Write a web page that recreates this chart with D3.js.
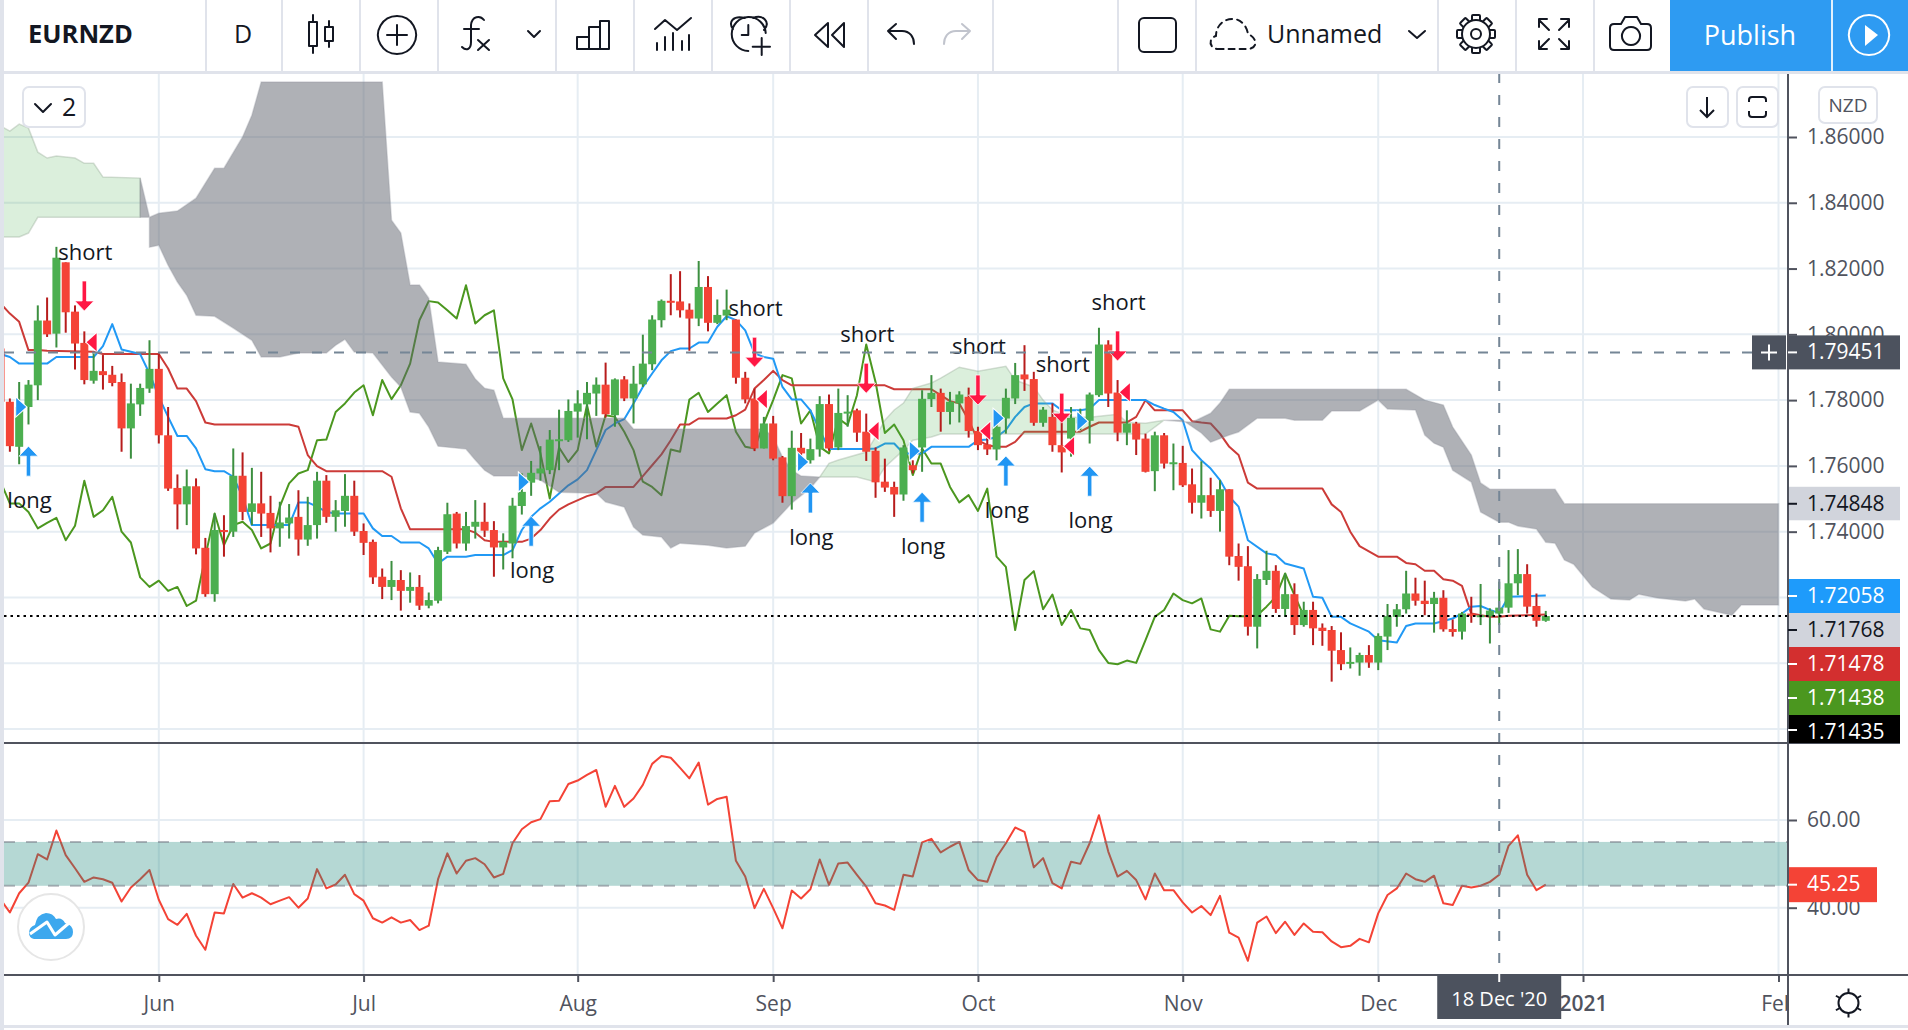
<!DOCTYPE html>
<html>
<head>
<meta charset="utf-8">
<title>EURNZD</title>
<script src="https://d3js.org/d3.v7.min.js"></script>
<style>
  html, body { margin: 0; padding: 0; background: #fff; overflow: hidden; }
  svg { display: block; font-family: "Open Sans", sans-serif; }
</style>
</head>
<body>
<svg id="chart" width="1908" height="1030" viewBox="0 0 1908 1030"></svg>
<script>
// Bars are numbered by trading day, with 1 June 2020 as bar 0.
const firstBar = -17;

const barOpen = [
  1.7957,1.7795,1.7658,1.7779,1.7845,1.8042,1.8002,1.8219,1.8069,1.7974,
  1.7859,1.7888,1.7877,1.7855,1.7714,1.7787,1.7835,1.7895,1.7693,1.7533,
  1.7483,1.7538,1.7351,1.7210,1.7405,1.7400,1.7570,1.7460,1.7486,1.7457,
  1.7410,1.7425,1.7445,1.7376,1.7420,1.7555,1.7445,1.7463,1.7509,1.7402,
  1.7369,1.7263,1.7232,1.7253,1.7220,1.7232,1.7175,1.7190,1.7339,1.7455,
  1.7364,1.7415,1.7430,1.7405,1.7352,1.7364,1.7478,1.7549,1.7577,1.7587,
  1.7678,1.7678,1.7765,1.7787,1.7820,1.7847,1.7754,1.7863,1.7805,1.7848,
  1.7909,1.8043,1.8102,1.8100,1.8075,1.8048,1.8144,1.8035,1.8057,1.8045,
  1.7868,1.7805,1.7653,1.7729,1.7626,1.7508,1.7655,1.7617,1.7650,1.7788,
  1.7656,1.7761,1.7769,1.7704,1.7646,1.7552,1.7536,1.7513,1.7602,1.7656,
  1.7803,1.7822,1.7764,1.7790,1.7810,1.7706,1.7665,1.7650,1.7744,1.7805,
  1.7878,1.7864,1.7731,1.7749,1.7663,1.7683,1.7729,1.7737,1.7815,1.7969,
  1.7823,1.7701,1.7729,1.7683,1.7584,1.7693,1.7607,1.7609,1.7544,1.7488,
  1.7511,1.7463,1.7529,1.7326,1.7295,1.7111,1.7253,1.7281,1.7165,1.7210,
  1.7116,1.7162,1.7108,1.7101,1.7040,1.6999,1.7002,1.7025,1.7002,1.7081,
  1.7141,1.7164,1.7212,1.7190,1.7180,1.7199,1.7104,1.7096,1.7151,1.7141,
  1.7143,1.7151,1.7169,1.7243,1.7271,1.7174,1.7129
];
const barHigh = [
  1.7957,1.7805,1.7855,1.7861,1.8088,1.8112,1.8266,1.8219,1.8088,1.8009,
  1.7942,1.7937,1.7904,1.7881,1.7850,1.7850,1.7982,1.7942,1.7779,1.7574,
  1.7589,1.7562,1.7381,1.7455,1.7450,1.7653,1.7641,1.7594,1.7582,1.7509,
  1.7491,1.7484,1.7526,1.7506,1.7582,1.7572,1.7496,1.7575,1.7555,1.7425,
  1.7376,1.7288,1.7311,1.7283,1.7276,1.7268,1.7215,1.7354,1.7488,1.7460,
  1.7460,1.7496,1.7488,1.7432,1.7395,1.7503,1.7577,1.7615,1.7660,1.7709,
  1.7771,1.7802,1.7830,1.7855,1.7869,1.7914,1.7866,1.7873,1.7904,1.7999,
  1.8058,1.8106,1.8183,1.8192,1.8094,1.8223,1.8177,1.8106,1.8136,1.8045,
  1.7886,1.7835,1.7749,1.7752,1.7630,1.7707,1.7700,1.7683,1.7812,1.7817,
  1.7835,1.7815,1.7774,1.7759,1.7656,1.7622,1.7552,1.7663,1.7617,1.7830,
  1.7876,1.7835,1.7825,1.7827,1.7838,1.7719,1.7698,1.7729,1.7835,1.7913,
  1.7967,1.7886,1.7779,1.7790,1.7749,1.7779,1.7774,1.7823,1.8020,1.7982,
  1.7861,1.7769,1.7734,1.7698,1.7704,1.7700,1.7668,1.7661,1.7592,1.7614,
  1.7564,1.7557,1.7529,1.7364,1.7356,1.7271,1.7342,1.7298,1.7273,1.7243,
  1.7187,1.7187,1.7121,1.7113,1.7094,1.7048,1.7032,1.7055,1.7091,1.7180,
  1.7180,1.7281,1.7260,1.7251,1.7217,1.7222,1.7133,1.7156,1.7202,1.7241,
  1.7167,1.7248,1.7344,1.7347,1.7301,1.7212,1.7159
];
const barLow = [
  1.7795,1.7643,1.7605,1.7726,1.7800,1.7992,1.7960,1.8005,1.7893,1.7848,
  1.7850,1.7832,1.7842,1.7643,1.7622,1.7752,1.7822,1.7668,1.7524,1.7407,
  1.7420,1.7331,1.7202,1.7187,1.7324,1.7384,1.7435,1.7420,1.7384,1.7337,
  1.7354,1.7379,1.7327,1.7357,1.7379,1.7427,1.7400,1.7415,1.7387,1.7329,
  1.7241,1.7195,1.7192,1.7160,1.7184,1.7162,1.7167,1.7182,1.7332,1.7349,
  1.7342,1.7379,1.7384,1.7263,1.7285,1.7319,1.7452,1.7509,1.7555,1.7575,
  1.7587,1.7673,1.7686,1.7681,1.7752,1.7747,1.7719,1.7797,1.7729,1.7840,
  1.7891,1.8021,1.8058,1.8051,1.7950,1.8025,1.8009,1.8031,1.8043,1.7850,
  1.7790,1.7645,1.7653,1.7617,1.7488,1.7467,1.7628,1.7607,1.7628,1.7646,
  1.7648,1.7719,1.7673,1.7615,1.7503,1.7521,1.7445,1.7494,1.7577,1.7582,
  1.7779,1.7704,1.7726,1.7732,1.7686,1.7648,1.7633,1.7617,1.7698,1.7788,
  1.7828,1.7722,1.7719,1.7643,1.7580,1.7628,1.7709,1.7668,1.7810,1.7779,
  1.7675,1.7663,1.7633,1.7580,1.7523,1.7592,1.7526,1.7536,1.7455,1.7440,
  1.7445,1.7400,1.7298,1.7251,1.7084,1.7045,1.7238,1.7153,1.7141,1.7086,
  1.7111,1.7055,1.7053,1.6944,1.6979,1.6984,1.6962,1.6986,1.6979,1.7040,
  1.7111,1.7151,1.7175,1.7146,1.7093,1.7096,1.7081,1.7072,1.7123,1.7116,
  1.7060,1.7116,1.7153,1.7207,1.7151,1.7111,1.7126
];
const barClose = [
  1.7795,1.7660,1.7779,1.7847,1.8042,1.8000,1.8233,1.8067,1.7972,1.7861,
  1.7889,1.7876,1.7852,1.7714,1.7790,1.7837,1.7895,1.7693,1.7531,1.7483,
  1.7538,1.7349,1.7210,1.7405,1.7400,1.7570,1.7460,1.7486,1.7455,1.7410,
  1.7428,1.7443,1.7376,1.7420,1.7555,1.7445,1.7465,1.7509,1.7400,1.7366,
  1.7261,1.7232,1.7253,1.7220,1.7232,1.7175,1.7192,1.7344,1.7453,1.7364,
  1.7417,1.7430,1.7403,1.7352,1.7369,1.7479,1.7521,1.7579,1.7592,1.7680,
  1.7681,1.7767,1.7790,1.7822,1.7847,1.7757,1.7863,1.7805,1.7850,1.7911,
  1.8045,1.8102,1.8098,1.8073,1.8048,1.8144,1.8035,1.8059,1.8075,1.7868,
  1.7802,1.7653,1.7729,1.7622,1.7508,1.7655,1.7638,1.7651,1.7788,1.7653,
  1.7761,1.7765,1.7701,1.7643,1.7550,1.7534,1.7513,1.7656,1.7587,1.7804,
  1.7822,1.7764,1.7795,1.7817,1.7706,1.7663,1.7650,1.7719,1.7807,1.7876,
  1.7863,1.7731,1.7771,1.7663,1.7641,1.7746,1.7749,1.7817,1.7969,1.7820,
  1.7701,1.7729,1.7680,1.7582,1.7693,1.7607,1.7611,1.7541,1.7488,1.7511,
  1.7463,1.7529,1.7324,1.7293,1.7111,1.7256,1.7281,1.7165,1.7210,1.7116,
  1.7162,1.7106,1.7098,1.7038,1.6997,1.7004,1.7025,1.7002,1.7083,1.7143,
  1.7164,1.7212,1.7190,1.7180,1.7199,1.7103,1.7095,1.7151,1.7143,1.7146,
  1.7160,1.7169,1.7243,1.7271,1.7172,1.7129,1.71435
];

// Conversion and base lines, as [bar, price] at each change of direction.
const kijun = [[-17,1.8094],[-16,1.8063],[-15,1.8038],[-14,1.7952],[-13,1.7952],[-12,1.7950],[-7,1.7947],[-6,1.7940],[0,1.7940],
  [1,1.7896],[2,1.7835],[3,1.7835],[4,1.7797],[5,1.7732],[6,1.7726],[14,1.7726],[15,1.7719],[16,1.7633],[17,1.7599],[18,1.7584],
  [24,1.7584],[25,1.7567],[26,1.7471],[27,1.7407],[33,1.7407],[34,1.7397],[35,1.7374],[36,1.7369],[39,1.7369],[40,1.7379],
  [41,1.7405],[42,1.7440],[43,1.7467],[44,1.7483],[46,1.7508],[47,1.7516],[48,1.7536],[51,1.7536],[52,1.7569],[53,1.7602],
  [54,1.7635],[55,1.7678],[56,1.7726],[57,1.7726],[58,1.7744],[61,1.7744],[62,1.7754],[63,1.7771],[64,1.7835],[65,1.7861],
  [66,1.7889],[67,1.7861],[68,1.7845],[78,1.7845],[79,1.7833],[83,1.7833],[84,1.7815],[85,1.7797],[86,1.7790],[87,1.7739],
  [88,1.7678],[89,1.7663],[90,1.7658],[91,1.7658],[92,1.7673],[93,1.7704],[99,1.7704],[100,1.7719],[101,1.7732],[104,1.7732],
  [105,1.7749],[106,1.7800],[107,1.7769],[110,1.7769],[111,1.7736],[112,1.7732],[113,1.7729],[114,1.7698],[115,1.7658],[116,1.7633],
  [117,1.7549],[118,1.7531],[125,1.7531],[126,1.7483],[127,1.7460],[128,1.7400],[129,1.7356],[131,1.7324],[133,1.7324],[134,1.7305],
  [135,1.7301],[136,1.7281],[137,1.7281],[138,1.7255],[139,1.7251],[140,1.7235],[141,1.7151],[142,1.7146],[143,1.7141],[144,1.7141],
  [145,1.7144],[147,1.7146],[149,1.71478]];

const tenkan = [[-17,1.7940],[-16,1.7931],[-15,1.7911],[-12,1.7911],[-11,1.7931],[-7,1.7931],[-6,1.7964],[-5,1.8031],[-4,1.7954],[-2,1.7940],
  [-1,1.7881],[0,1.7810],[1,1.7749],[2,1.7691],[3,1.7691],[4,1.7653],[5,1.7590],[6,1.7584],[7,1.7584],[8,1.7567],[9,1.7506],[10,1.7420],
  [14,1.7420],[15,1.7489],[16,1.7489],[17,1.7476],[18,1.7460],[19,1.7455],[22,1.7455],[23,1.7410],[24,1.7387],[25,1.7387],[26,1.7367],
  [28,1.7367],[29,1.7349],[30,1.7303],[31,1.7324],[33,1.7324],[34,1.7329],[37,1.7329],[38,1.7344],[39,1.7405],[40,1.7445],[41,1.7471],
  [42,1.7491],[43,1.7516],[44,1.7541],[45,1.7559],[46,1.7587],[47,1.7648],[48,1.7709],[49,1.7729],[50,1.7742],[51,1.7790],[52,1.7840],
  [53,1.7881],[54,1.7921],[55,1.7949],[56,1.7957],[57,1.7957],[58,1.7975],[59,1.7975],[60,1.8023],[61,1.8055],[62,1.8043],[63,1.8012],
  [64,1.7942],[65,1.7931],[66,1.7926],[67,1.7840],[68,1.7802],[69,1.7802],[70,1.7769],[71,1.7709],[72,1.7651],[76,1.7651],[77,1.7653],
  [78,1.7668],[79,1.7668],[80,1.7638],[82,1.7638],[83,1.7658],[87,1.7658],[88,1.7678],[89,1.7680],[90,1.7688],[91,1.7709],[92,1.7749],
  [93,1.7779],[94,1.7790],[96,1.7790],[97,1.7769],[99,1.7769],[100,1.7774],[101,1.7800],[106,1.7800],[107,1.7785],[108,1.7774],[109,1.7764],
  [110,1.7739],[111,1.7648],[112,1.7617],[113,1.7592],[114,1.7557],[115,1.7506],[116,1.7476],[117,1.7374],[119,1.7334],[120,1.7329],
  [121,1.7303],[123,1.7288],[124,1.7202],[125,1.7199],[126,1.7141],[127,1.7141],[128,1.7121],[130,1.7096],[131,1.7070],[133,1.7063],
  [134,1.7113],[135,1.7121],[137,1.7121],[139,1.7136],[140,1.7151],[141,1.7172],[142,1.7174],[143,1.7162],[144,1.7153],[145,1.7202],
  [149,1.72058]];

// Lagging line, one value per bar from firstBar.
const chikou = [
  1.7552,1.7486,1.7486,1.7460,1.7410,1.7427,1.7442,1.7374,1.7418,1.7555,
  1.7445,1.7465,1.7506,1.7400,1.7367,1.7261,1.7232,1.7251,1.7220,1.7232,
  1.7174,1.7190,1.7324,1.7455,1.7359,1.7420,1.7430,1.7405,1.7349,1.7364,
  1.7476,1.7547,1.7577,1.7587,1.7678,1.7680,1.7764,1.7790,1.7823,1.7845,
  1.7754,1.7861,1.7803,1.7845,1.7911,1.8043,1.8101,1.8097,1.8073,1.8048,
  1.8149,1.8033,1.8058,1.8073,1.7866,1.7802,1.7648,1.7729,1.7638,1.7501,
  1.7656,1.7612,1.7648,1.7785,1.7658,1.7754,1.7749,1.7704,1.7648,1.7552,
  1.7536,1.7511,1.7650,1.7643,1.7802,1.7822,1.7764,1.7790,1.7815,1.7704,
  1.7658,1.7653,1.7729,1.7800,1.7876,1.7866,1.7729,1.7769,1.7658,1.7638,
  1.7744,1.7724,1.7815,1.7969,1.7855,1.7700,1.7726,1.7678,1.7572,1.7653,
  1.7607,1.7607,1.7536,1.7489,1.7511,1.7463,1.7531,1.7324,1.7293,1.7101,
  1.7253,1.7280,1.7164,1.7209,1.7116,1.7162,1.7106,1.7101,1.7040,1.7001,
  1.6997,1.7008,1.7001,1.7070,1.7141,1.7162,1.7212,1.7192,1.7182,1.7197,
  1.7103,1.7096,1.7144,1.7143,1.7143,1.7146,1.7172,1.7202,1.7273,1.7207,
  1.71438
];

// Cloud sections: each has an upper and a lower edge of [bar, price] points.
const cloudGreenLeftUpper = [[-17,1.8633],[-16,1.8618],[-15,1.8639],[-14,1.8627],[-13,1.8554],[-12,1.8536],[-11,1.8542],[-9,1.8536],[-8,1.8520],[-7,1.8520],[-6,1.8478],[-2,1.8475],[-2,1.8356]];
const cloudGreenLeftLower = [[-17,1.8296],[-15,1.8296],[-14,1.8308],[-13,1.8356],[-2,1.8356]];
const cloudGreyLeftUpper = [[-2,1.8475],[-1,1.8356],[0,1.8368],[2,1.8375],[4,1.8414],[6,1.8505],[7,1.8505],[9,1.8600],[10,1.8666],[11,1.8767],[24,1.8767],[25,1.8347],[26,1.8308],
  [27,1.8150],[28,1.8150],[29,1.8110],[30,1.7916],[33,1.7909],[34,1.7864],[35,1.7836],[36,1.7830],[37,1.7745],[50,1.7745],[51,1.7712],[65,1.7712],[66,1.7688],[67,1.7627],[68,1.7587],[69,1.7569],[71,1.7566]];
const cloudGreyLeftLower = [[-2,1.8475],[-2,1.8356],[-1,1.8356],[-1,1.8265],[0,1.8271],[1,1.8210],[2,1.8159],[3,1.8119],[4,1.8058],[6,1.8055],[8,1.8019],[10,1.7982],[11,1.7931],[13,1.7931],[15,1.7943],[18,1.7943],
  [19,1.7967],[20,1.7985],[21,1.7946],[23,1.7943],[25,1.7870],[26,1.7840],[27,1.7764],[28,1.7760],[29,1.7718],[30,1.7660],[33,1.7651],[34,1.7618],[35,1.7587],[36,1.7569],[39,1.7569],[41,1.7557],
  [43,1.7520],[47,1.7517],[48,1.7490],[50,1.7475],[51,1.7414],[52,1.7390],[54,1.7384],[55,1.7350],[56,1.7365],[59,1.7359],[61,1.7350],[63,1.7356],[64,1.7396],[66,1.7426],[68,1.7487],[70,1.7532],[71,1.7566]];
const cloudGreenMidUpper = [[71,1.7566],[72,1.7608],[73,1.7618],[76,1.7642],[77,1.7688],[78,1.7739],[79,1.7770],[80,1.7791],[81,1.7836],[83,1.7852],[84,1.7867],[86,1.7900],[88,1.7888],[91,1.7903],
  [92,1.7861],[94,1.7840],[95,1.7800],[96,1.7770],[98,1.7748],[100,1.7748],[103,1.7757],[104,1.7733],[106,1.7730],[108,1.7739]];
const cloudGreenMidLower = [[71,1.7566],[75,1.7566],[77,1.7551],[78,1.7596],[80,1.7648],[81,1.7678],[83,1.7688],[84,1.7697],[106,1.7697],[108,1.7739]];
const cloudGreyRightUpper = [[108,1.7739],[111,1.7733],[113,1.7760],[114,1.7791],[115,1.7833],[134,1.7833],[136,1.7800],[138,1.7785],[139,1.7718],[141,1.7633],[142,1.7548],[143,1.7529],[150,1.7529],[151,1.74848],[174,1.74848]];
const cloudGreyRightLower = [[108,1.7739],[110,1.7739],[112,1.7700],[113,1.7672],[115,1.7694],[116,1.7703],[118,1.7745],[121,1.7745],[122,1.7739],[125,1.7739],[126,1.7767],[129,1.7767],[131,1.7800],[132,1.7773],
  [135,1.7770],[136,1.7694],[137,1.7669],[138,1.7657],[139,1.7587],[141,1.7551],[142,1.7460],[144,1.7429],[145,1.7429],[146,1.7417],[148,1.7408],[149,1.7368],[150,1.7365],[151,1.7314],[152,1.7301],
  [154,1.7232],[156,1.7195],[158,1.7192],[159,1.7210],[161,1.7198],[164,1.7189],[165,1.7195],[166,1.7165],[169,1.7146],[170,1.71768],[174,1.71768]];

// Signal markers, as [bar, price] of the marker's point.
const longArrows = [[-14,1.7660],[40,1.7447],[70,1.7548],[82,1.7520],[91,1.7630],[100,1.7599]];
const shortArrows = [[-8,1.8071],[64,1.7900],[76,1.7821],[88,1.7785],[97,1.7730],[103,1.7919]];
const longFlags = [[-15,1.7779],[39,1.7551],[69,1.7612],[81,1.7645],[90,1.7745],[99,1.7736]];
const shortFlags = [[-7,1.7976],[65,1.7803],[77,1.7706],[89,1.7706],[98,1.7660],[104,1.7824]];

// Oscillator pane, one value per bar from firstBar.
const rsi = [
  41.9,38.9,43.3,45.7,52.2,51.0,57.6,52.0,49.0,45.9,
  46.9,46.5,45.7,41.4,44.6,46.5,48.6,41.8,37.4,36.1,
  38.6,33.6,30.4,38.9,38.7,45.4,42.3,43.3,42.3,40.8,
  41.6,42.4,40.0,42.1,48.8,44.4,45.3,47.5,43.1,41.6,
  37.6,36.6,37.8,36.6,37.2,34.9,35.9,46.5,52.4,47.8,
  50.7,51.3,49.9,46.9,47.7,54.7,57.9,59.5,60.2,64.3,
  64.4,68.2,69.0,70.3,71.4,63.0,67.8,63.0,64.9,68.0,
  72.8,74.6,74.2,71.9,69.5,73.1,63.5,64.8,65.3,50.7,
  47.1,39.9,44.3,39.9,35.3,43.9,42.1,44.2,51.0,45.2,
  50.1,50.3,47.5,44.8,41.0,40.5,39.5,47.5,47.1,54.9,
  55.7,52.6,53.9,55.0,48.6,46.3,45.9,51.5,54.7,58.3,
  57.3,49.2,51.3,45.6,44.4,50.5,50.0,54.7,61.1,52.8,
  47.1,48.4,46.3,41.9,47.8,44.0,44.0,41.2,38.9,40.4,
  38.3,42.7,34.3,33.2,27.9,36.6,38.0,34.2,36.8,33.8,
  36.4,34.5,34.4,32.3,31.0,31.3,32.9,32.1,38.7,42.9,
  44.4,47.8,46.5,45.9,47.3,41.0,40.6,45.0,44.6,45.0,
  45.9,47.5,54.1,56.5,47.5,44.0,45.25
];

// Axis ticks and their labels.
const priceTicks = [1.86, 1.84, 1.82, 1.80, 1.78, 1.76, 1.74, 1.72, 1.70, 1.68];
const rsiTicks = [60, 40];
const rsiBand = [45, 55];
const monthBars = [0, 22, 45, 66, 88, 110, 131, 153, 174];
const monthLabels = ["Jun", "Jul", "Aug", "Sep", "Oct", "Nov", "Dec", "2021", "Feb"];

// Crosshair readout and last-value tags.
const crossBar = 144;
const crossPrice = 1.79451;
const crossDate = "18 Dec '20";
const lastClose = 1.71435;
const senkouBLast = 1.74848;
const stackedTags = ["1.72058", "1.71768", "1.71478", "1.71438", "1.71435"];
const stackedFills = ["#1e9bfb", "#d1d4dc", "#d32f2f", "#4b971f", "#000000"];
const stackedInk = ["#ffffff", "#131722", "#ffffff", "#ffffff", "#ffffff"];

const svg = d3.select("#chart");
const x = d3.scaleLinear().domain([0, 153]).range([158.8, 1583]);
const y = d3.scaleLinear().domain([1.86, 1.68]).range([137, 729]);
const yRsi = d3.scaleLinear().domain([60, 40]).range([820, 907.7]);

const paneLeft = 4, paneRight = 1788, paneTop = 73, priceBottom = 743, rsiBottom = 975;
const gridColor = "#e6edf3", axisColor = "#50535e", borderColor = "#e0e3eb", ink = "#131722";

const defs = svg.append("defs");
defs.append("clipPath").attr("id", "pricePane").append("rect")
  .attr("x", paneLeft).attr("y", paneTop).attr("width", paneRight - paneLeft).attr("height", priceBottom - paneTop);
defs.append("clipPath").attr("id", "rsiPane").append("rect")
  .attr("x", paneLeft).attr("y", priceBottom).attr("width", paneRight - paneLeft).attr("height", rsiBottom - priceBottom);

// Grid
const grid = svg.append("g").attr("stroke", gridColor).attr("stroke-width", 2);
grid.selectAll(".gv").data(monthBars).join("line")
  .attr("x1", d => x(d)).attr("x2", d => x(d)).attr("y1", paneTop).attr("y2", rsiBottom);
grid.selectAll(".gh").data(priceTicks).join("line")
  .attr("x1", paneLeft).attr("x2", paneRight).attr("y1", d => y(d)).attr("y2", d => y(d));
grid.selectAll(".gr").data(rsiTicks).join("line")
  .attr("x1", paneLeft).attr("x2", paneRight).attr("y1", d => yRsi(d)).attr("y2", d => yRsi(d));

// Ichimoku lines sit under the translucent cloud.
const price = svg.append("g").attr("clip-path", "url(#pricePane)");
const pairLine = d3.line().x(d => x(d[0])).y(d => y(d[1]));
const drawLine = (pts, color) => price.append("path").attr("d", pairLine(pts))
  .attr("fill", "none").attr("stroke", color).attr("stroke-width", 2).attr("stroke-linejoin", "round");
drawLine(chikou.map((v, i) => [firstBar + i, v]), "#4b971f");
drawLine(kijun, "#cc3b38");
drawLine(tenkan, "#2199f5");

const cloud = (upper, lower, fill, edge) => price.append("path")
  .attr("d", pairLine(upper.concat(lower.slice().reverse())) + "Z")
  .attr("fill", fill).attr("fill-opacity", fill === "#4caf50" ? 0.2 : 0.5)
  .attr("stroke", edge).attr("stroke-opacity", 0.35).attr("stroke-width", 1.5);
cloud(cloudGreenLeftUpper, cloudGreenLeftLower, "#4caf50", "#8fa38f");
cloud(cloudGreyLeftUpper, cloudGreyLeftLower, "#5f636d", "#9598a1");
cloud(cloudGreenMidUpper, cloudGreenMidLower, "#4caf50", "#8fa38f");
cloud(cloudGreyRightUpper, cloudGreyRightLower, "#5f636d", "#9598a1");

// Candles
const bars = barOpen.map((o, i) => ({ bar: firstBar + i, o, h: barHigh[i], l: barLow[i], c: barClose[i] }));
const candle = price.append("g").selectAll("g").data(bars).join("g");
candle.append("line")
  .attr("x1", d => x(d.bar)).attr("x2", d => x(d.bar))
  .attr("y1", d => y(d.h)).attr("y2", d => y(d.l))
  .attr("stroke", d => d.c >= d.o ? "#3c8f40" : "#b71c1c").attr("stroke-width", 2);
candle.append("rect")
  .attr("x", d => x(d.bar) - 4).attr("width", 8)
  .attr("y", d => y(Math.max(d.o, d.c)))
  .attr("height", d => Math.max(2, Math.abs(y(d.o) - y(d.c))))
  .attr("fill", d => d.c >= d.o ? "#4caf50" : "#f44336");

// Signal markers and their captions
const marks = svg.append("g").attr("clip-path", "url(#pricePane)");
const arrowPath = dir => `M0 0L${9.5} ${dir * 10}H${2.2}V${dir * 30}H${-2.2}V${dir * 10}H${-9.5}Z`;
const markText = (d, dy, label) => marks.append("text")
  .attr("x", x(d[0]) + 1).attr("y", y(d[1]) + dy).attr("text-anchor", "middle")
  .attr("font-size", 22).attr("fill", ink).text(label);
const placeArrows = (data, dir, color) => marks.append("g").selectAll("path").data(data).join("path")
  .attr("d", arrowPath(dir)).attr("fill", color)
  .attr("stroke", "#fff").attr("stroke-opacity", 0.75).attr("stroke-width", 1)
  .attr("transform", d => `translate(${x(d[0])},${y(d[1])})`);
const placeFlags = (data, path, color) => marks.append("g").selectAll("path").data(data).join("path")
  .attr("d", path).attr("fill", color)
  .attr("stroke", "#fff").attr("stroke-width", 2).attr("paint-order", "stroke")
  .attr("transform", d => `translate(${x(d[0])},${y(d[1])})`);
placeFlags(longFlags, "M-3 -9L7 0L-3 9Z", "#2196f3");
placeFlags(shortFlags, "M3 -9L-7 0L3 9Z", "#ff1744");
placeArrows(longArrows, 1, "#2196f3");
placeArrows(shortArrows, -1, "#ff1744");
longArrows.forEach(d => markText(d, 62, "long"));
shortArrows.forEach(d => markText(d, -51, "short"));

// Last close and crosshair rules
const rules = svg.append("g");
rules.append("line").attr("x1", paneLeft).attr("x2", paneRight)
  .attr("y1", y(lastClose)).attr("y2", y(lastClose))
  .attr("stroke", "#000").attr("stroke-width", 2).attr("stroke-dasharray", "2.5 4");

// Oscillator pane: the band is painted over the line.
const rsiPane = svg.append("g").attr("clip-path", "url(#rsiPane)");
rsiPane.append("path")
  .attr("d", d3.line().x((d, i) => x(firstBar + i)).y(d => yRsi(d))(rsi))
  .attr("fill", "none").attr("stroke", "#f44336").attr("stroke-width", 2).attr("stroke-linejoin", "round");
rsiPane.append("rect").attr("x", paneLeft).attr("width", paneRight - paneLeft)
  .attr("y", yRsi(rsiBand[1])).attr("height", yRsi(rsiBand[0]) - yRsi(rsiBand[1]))
  .attr("fill", "#1f8a7d").attr("fill-opacity", 0.33);
rsiPane.selectAll(".bandRule").data(rsiBand).join("line")
  .attr("x1", paneLeft).attr("x2", paneRight).attr("y1", d => yRsi(d)).attr("y2", d => yRsi(d))
  .attr("stroke", "#787b86").attr("stroke-opacity", 0.55).attr("stroke-width", 2).attr("stroke-dasharray", "11 11");

rules.raise();
rules.append("line").attr("x1", paneLeft).attr("x2", 1752)
  .attr("y1", y(crossPrice)).attr("y2", y(crossPrice))
  .attr("stroke", "#758696").attr("stroke-width", 2).attr("stroke-dasharray", "10 12");
rules.append("line").attr("x1", x(crossBar)).attr("x2", x(crossBar))
  .attr("y1", paneTop).attr("y2", rsiBottom)
  .attr("stroke", "#758696").attr("stroke-width", 2).attr("stroke-dasharray", "10 12");

// Axes
const styleAxis = g => {
  g.select(".domain").remove();
  g.selectAll("line").attr("stroke", axisColor).attr("stroke-width", 2);
  g.selectAll("text").attr("fill", axisColor).attr("font-size", 21).attr("font-family", '"Open Sans", sans-serif');
};
svg.append("g").attr("transform", `translate(${paneRight},0)`)
  .call(d3.axisRight(y).tickValues(priceTicks).tickFormat(d3.format(".5f")).tickSize(9).tickPadding(10))
  .call(styleAxis);
svg.append("g").attr("transform", `translate(${paneRight},0)`)
  .call(d3.axisRight(yRsi).tickValues(rsiTicks).tickFormat(d3.format(".2f")).tickSize(9).tickPadding(10))
  .call(styleAxis);
const timeAxis = svg.append("g").attr("transform", `translate(0,${rsiBottom})`)
  .call(d3.axisBottom(x).tickValues(monthBars).tickFormat((d, i) => monthLabels[i]).tickSize(7).tickPadding(14))
  .call(styleAxis);
timeAxis.selectAll(".tick text").filter(d => d === 153).attr("font-weight", 600);
// The last month label is cut off by the price scale.
svg.append("rect").attr("x", paneRight).attr("y", rsiBottom + 2).attr("width", 120).attr("height", 48).attr("fill", "#fff");

// Frame lines
const frame = svg.append("g").attr("stroke", axisColor).attr("stroke-width", 2);
frame.append("line").attr("x1", paneRight).attr("x2", paneRight).attr("y1", paneTop).attr("y2", 1025);
frame.append("line").attr("x1", paneLeft).attr("x2", 1900).attr("y1", priceBottom).attr("y2", priceBottom);
frame.append("line").attr("x1", paneLeft).attr("x2", 1908).attr("y1", rsiBottom).attr("y2", rsiBottom);

// Value tags on the price scale
const tag = (top, h, right, fill, color, label, tickY) => {
  const g = svg.append("g");
  g.append("rect").attr("x", paneRight + 1).attr("y", top).attr("width", right - paneRight - 1).attr("height", h).attr("fill", fill);
  g.append("line").attr("x1", paneRight).attr("x2", paneRight + 9).attr("y1", tickY).attr("y2", tickY).attr("stroke", color).attr("stroke-width", 2);
  g.append("text").attr("x", paneRight + 19).attr("y", top + 24).attr("fill", color).attr("font-size", 21).text(label);
};
tag(y(senkouBLast) - 17, 33.5, 1900, "#d1d4dc", ink, d3.format(".5f")(senkouBLast), y(senkouBLast));
stackedTags.forEach((t, i) => {
  const top = 579 + i * 34;
  tag(top, i === 4 ? priceBottom - top : 34, 1900, stackedFills[i], stackedInk[i], t, top + (i === 4 ? 15 : 17));
});
tag(y(crossPrice) - 17, 34, 1900, "#4c525e", "#ffffff", d3.format(".5f")(crossPrice), y(crossPrice));
tag(yRsi(rsi[rsi.length - 1]) - 17.5, 35, 1877, "#f44336", "#ffffff", d3.format(".2f")(rsi[rsi.length - 1]), yRsi(rsi[rsi.length - 1]));

// Crosshair price "+" box and date box
svg.append("rect").attr("x", 1752).attr("y", y(crossPrice) - 17).attr("width", 34).attr("height", 34).attr("fill", "#4c525e");
svg.append("path").attr("d", `M1769 ${y(crossPrice) - 8}v16M1761 ${y(crossPrice)}h16`).attr("stroke", "#fff").attr("stroke-width", 2);
svg.append("rect").attr("x", x(crossBar) - 62).attr("y", rsiBottom - 1).attr("width", 124).attr("height", 45).attr("fill", "#4c525e");
svg.append("line").attr("x1", x(crossBar)).attr("x2", x(crossBar)).attr("y1", rsiBottom - 1).attr("y2", rsiBottom + 7).attr("stroke", "#fff").attr("stroke-width", 2);
svg.append("text").attr("x", x(crossBar)).attr("y", 1006).attr("text-anchor", "middle").attr("fill", "#fff").attr("font-size", 20).text(crossDate);

// Page frame and toolbar
svg.append("rect").attr("x", 0).attr("y", 0).attr("width", 4).attr("height", 1030).attr("fill", borderColor);
svg.append("rect").attr("x", 4).attr("y", 1025).attr("width", 1904).attr("height", 3).attr("fill", borderColor);
const bar = svg.append("g");
bar.append("rect").attr("x", 4).attr("y", 0).attr("width", 1904).attr("height", 71).attr("fill", "#fff");
bar.append("rect").attr("x", 4).attr("y", 71).attr("width", 1904).attr("height", 3).attr("fill", borderColor);
const separators = [205, 281, 359, 437, 555, 633, 711, 789, 867, 992, 1117, 1195, 1437, 1515, 1593];
bar.selectAll(".sep").data(separators).join("rect")
  .attr("x", d => d).attr("y", 0).attr("width", 2).attr("height", 71).attr("fill", borderColor);
bar.append("rect").attr("x", 1670).attr("y", 0).attr("width", 238).attr("height", 71).attr("fill", "#2e9bf2");
bar.append("rect").attr("x", 1831).attr("y", 0).attr("width", 2).attr("height", 71).attr("fill", "#fff").attr("fill-opacity", 0.85);
const label = (tx, ty, s, size, color, weight, anchor) => bar.append("text")
  .attr("x", tx).attr("y", ty).attr("font-size", size).attr("fill", color)
  .attr("font-weight", weight || 400).attr("text-anchor", anchor || "start").text(s);
label(28, 43, "EURNZD", 25.5, ink, 700);
label(243, 43, "D", 25, ink, 400, "middle");
label(1267, 43, "Unnamed", 25, ink);
label(1750, 45, "Publish", 27, "#fff", 400, "middle");

const icon = (d, stroke, width, dash) => svg.append("path").attr("d", d).attr("fill", "none")
  .attr("stroke", stroke || ink).attr("stroke-width", width || 2)
  .attr("stroke-linejoin", "round").attr("stroke-linecap", "round").attr("stroke-dasharray", dash || null);
// Candle type
icon("M313 15V22M313 46V53M309 22H317V46H309ZM329 21V27M329 41V47M325 27H333V41H325Z");
// Add symbol
icon("M397 16a19 19 0 1 0 .01 0ZM397 25V45M387 35H407");
// Indicators
icon("M484 20C480 15 472 16 471 25V42C471 50 466 51 462 47M464 29H479M478 40L489 50M489 40L478 50");
icon("M528 31L534 37L540 31");
// Compare bars
icon("M577 37H589V49H577ZM589 27H600V49H589ZM600 21H609V49H600Z");
// Templates
icon("M655 29L665 20L677 30L691 18M657 50V43M665 50V37M673 50V33M682 50V41M689 50V35");
// Alarm
icon("M765.7 33A17 17 0 1 0 748.3 51M733 29C728 22 733 15 745 18M753 18C763 14 771 22 764 30M748.3 25V35H741.7M752.7 46.7H770M761.7 38V55");
// Replay
icon("M828 23L815 35L828 47ZM844 23L832 35L844 47Z");
// Undo and redo
icon("M888 31H902C910 31 914 37 914 44M896 24L888 31L896 39");
icon("M970 31H956C948 31 944 37 944 44M962 24L970 31L962 39", "#c1c4cd");
// Layout square
bar.append("rect").attr("x", 1139).attr("y", 18).attr("width", 37).attr("height", 34).attr("rx", 5)
  .attr("fill", "none").attr("stroke", ink).attr("stroke-width", 2);
// Saved layout cloud, dashed while unnamed
icon("M1222 49H1218C1209 49 1208 38 1216 36C1216 24 1226 18 1234 19C1243 20 1247 28 1248 34C1256 37 1259 47 1249 49H1222", ink, 2, "6 5");
icon("M1409 31L1417 38L1425 31");
// Settings gear
const gearTeeth = d3.range(8).map(i => i * 45);
gearTeeth.forEach(a => {
  bar.append("rect").attr("x", 1472).attr("y", 15).attr("width", 8).attr("height", 6).attr("rx", 1)
    .attr("fill", "#fff").attr("stroke", ink).attr("stroke-width", 2)
    .attr("transform", `rotate(${a} 1476 34)`);
});
bar.append("circle").attr("cx", 1476).attr("cy", 34).attr("r", 14).attr("fill", "#fff").attr("stroke", ink).attr("stroke-width", 2);
bar.append("circle").attr("cx", 1476).attr("cy", 34).attr("r", 5).attr("fill", "#fff").attr("stroke", ink).attr("stroke-width", 2);
// Fullscreen
icon("M1539 20L1549 30M1539 27V19H1547M1569 20L1559 30M1561 19H1569V27M1539 49L1549 39M1539 41V49H1547M1569 49L1559 39M1561 49H1569V41");
// Snapshot
icon("M1614 24H1621L1625 17H1637L1641 24H1647Q1651 24 1651 28V46Q1651 50 1647 50H1614Q1610 50 1610 46V28Q1610 24 1614 24ZM1631 27a9 9 0 1 0 .01 0Z");
// Play
icon("M1869 15a20 20 0 1 0 .01 0Z", "#fff", 2);
svg.append("path").attr("d", "M1865 25L1878 35L1865 46Z").attr("fill", "#fff");

// Floating buttons
const button = (bx, by, w, h) => svg.append("rect").attr("x", bx).attr("y", by).attr("width", w).attr("height", h).attr("rx", 6)
  .attr("fill", "#fff").attr("stroke", borderColor).attr("stroke-width", 2);
button(23, 87, 62, 40);
icon("M35 104L43 112L51 104");
svg.append("text").attr("x", 62).attr("y", 116).attr("font-size", 25).attr("fill", ink).text("2");
button(1687, 87, 41, 40);
button(1737, 87, 41, 40);
svg.append("path").attr("d", "M1707 97V117M1700 110L1707 117L1714 110").attr("fill", "none").attr("stroke", ink).attr("stroke-width", 2);
svg.append("path").attr("d", "M1749 102V100Q1749 97 1752 97H1763Q1766 97 1766 100V102M1749 111V114Q1749 117 1752 117H1763Q1766 117 1766 114V111").attr("fill", "none").attr("stroke", ink).attr("stroke-width", 2);
button(1819, 87, 58, 36);
svg.append("text").attr("x", 1848).attr("y", 112).attr("text-anchor", "middle").attr("font-size", 19).attr("fill", axisColor).text("NZD");

// Vendor badge in the lower pane
svg.append("ellipse").attr("cx", 51).attr("cy", 927).attr("rx", 33).attr("ry", 33)
  .attr("fill", "#fff").attr("stroke", "#e6e6e6").attr("stroke-width", 2);
svg.append("path").attr("d", "M34 939Q29 938 29 933Q29 927 35 925Q37 914 46 913Q53 913 56 919Q62 917 65 923Q73 925 73 932Q73 939 66 939Z").attr("fill", "#3da8ee");
svg.append("path").attr("d", "M30 934L47 922L55 935L69 923").attr("fill", "none").attr("stroke", "#fff").attr("stroke-width", 3).attr("stroke-linejoin", "round");

// Appearance button in the corner of the scales
const sun = svg.append("g");
sun.append("circle").attr("cx", 1848.5).attr("cy", 1003).attr("r", 10).attr("fill", "none").attr("stroke", ink).attr("stroke-width", 2);
d3.range(6).forEach(i => {
  const a = i * Math.PI / 3 - Math.PI / 2;
  sun.append("line").attr("x1", 1848.5 + 10 * Math.cos(a)).attr("y1", 1003 + 10 * Math.sin(a))
    .attr("x2", 1848.5 + 14.5 * Math.cos(a)).attr("y2", 1003 + 14.5 * Math.sin(a))
    .attr("stroke", ink).attr("stroke-width", 2);
});
</script>
</body>
</html>
